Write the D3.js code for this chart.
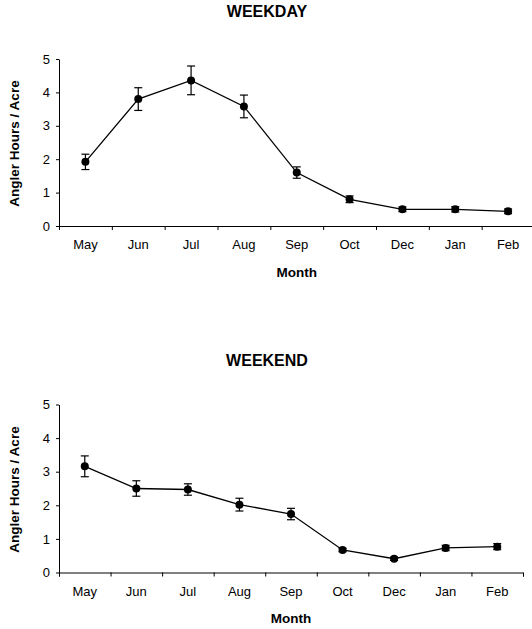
<!DOCTYPE html>
<html>
<head>
<meta charset="utf-8">
<script src="https://cdn.jsdelivr.net/npm/d3@7"></script>
<style>
  body { margin: 0; background: #fff; }
  svg { display: block; font-family: "Liberation Sans", Arial, sans-serif; }
  .axis path, .axis line { stroke: #000; }
  .axis text { font-size: 13px; fill: #000; }
</style>
</head>
<body>
<div id="chart"></div>
<script>
// data
const months = ['May', 'Jun', 'Jul', 'Aug', 'Sep', 'Oct', 'Dec', 'Jan', 'Feb'];
const weekdayMean = [1.92, 3.80, 4.36, 3.58, 1.60, 0.80, 0.50, 0.50, 0.44];
const weekdayErr  = [0.23, 0.34, 0.43, 0.34, 0.17, 0.10, 0.07, 0.08, 0.07];
const weekendMean = [3.16, 2.50, 2.47, 2.02, 1.74, 0.67, 0.41, 0.73, 0.77];
const weekendErr  = [0.31, 0.23, 0.17, 0.19, 0.17, 0.05, 0.05, 0.08, 0.09];
const yTicks = [0, 1, 2, 3, 4, 5];

const svg = d3.select('#chart')
  .append('svg')
  .attr('width', 532)
  .attr('height', 629);

function drawPanel(cfg) {
  const { title, mean, err, left, right, top, bottom, titleY, monthY } = cfg;

  const x = d3.scaleBand().domain(months).range([left, right]);
  const xTicks = d3.scaleLinear().domain([0, months.length]).range([left, right]);
  const y = d3.scaleLinear().domain([0, 5]).range([bottom, top]);

  const g = svg.append('g');

  // title
  g.append('text')
    .attr('x', 267)
    .attr('y', titleY)
    .attr('text-anchor', 'middle')
    .style('font-size', '16px')
    .style('font-weight', 'bold')
    .text(title);

  // x axis: tick marks at band edges, labels at centres
  g.append('g')
    .attr('class', 'axis')
    .attr('transform', 'translate(0,' + bottom + ')')
    .call(d3.axisBottom(xTicks).tickValues(d3.range(months.length + 1)).tickFormat('').tickSizeOuter(0).tickSize(4));

  g.append('g')
    .attr('class', 'axis')
    .attr('transform', 'translate(0,' + bottom + ')')
    .call(d3.axisBottom(x).tickSize(0).tickPadding(14))
    .call(a => a.select('.domain').remove());

  // y axis
  g.append('g')
    .attr('class', 'axis')
    .attr('transform', 'translate(' + left + ',0)')
    .call(d3.axisLeft(y).tickValues(yTicks).tickFormat(d3.format('d')).tickSize(3).tickSizeOuter(0).tickPadding(6));

  // axis titles
  g.append('text')
    .attr('transform', 'translate(19,' + ((top + bottom) / 2 + 1) + ') rotate(-90)')
    .attr('text-anchor', 'middle')
    .style('font-size', '13.5px')
    .style('font-weight', 'bold')
    .text('Angler Hours / Acre');

  g.append('text')
    .attr('x', x('Sep') + x.bandwidth() / 2)
    .attr('y', monthY)
    .attr('text-anchor', 'middle')
    .style('font-size', '13.5px')
    .style('font-weight', 'bold')
    .text('Month');

  const pts = months.map((m, i) => ({ m, v: mean[i], e: err[i] }));
  const cx = d => x(d.m) + x.bandwidth() / 2;

  // connecting line
  g.append('path')
    .datum(pts)
    .attr('fill', 'none')
    .attr('stroke', '#000')
    .attr('stroke-width', 1.3)
    .attr('d', d3.line().x(cx).y(d => y(d.v)));

  // error bars
  const eb = g.selectAll('.eb').data(pts).enter().append('g').attr('class', 'eb')
    .attr('stroke', '#000').attr('stroke-width', 1.2);
  eb.append('line')
    .attr('x1', cx).attr('x2', cx)
    .attr('y1', d => y(d.v + d.e)).attr('y2', d => y(d.v - d.e));
  eb.append('line')
    .attr('x1', d => cx(d) - 4).attr('x2', d => cx(d) + 4)
    .attr('y1', d => y(d.v + d.e)).attr('y2', d => y(d.v + d.e));
  eb.append('line')
    .attr('x1', d => cx(d) - 4).attr('x2', d => cx(d) + 4)
    .attr('y1', d => y(d.v - d.e)).attr('y2', d => y(d.v - d.e));

  // markers
  g.selectAll('.dot').data(pts).enter().append('circle')
    .attr('class', 'dot')
    .attr('cx', cx)
    .attr('cy', d => y(d.v))
    .attr('r', 4)
    .attr('fill', '#000');
}

drawPanel({
  title: 'WEEKDAY', mean: weekdayMean, err: weekdayErr,
  left: 59, right: 534.5, top: 59, bottom: 226, titleY: 17, monthY: 277
});

drawPanel({
  title: 'WEEKEND', mean: weekendMean, err: weekendErr,
  left: 59, right: 523, top: 404.5, bottom: 572.5, titleY: 366, monthY: 623
});
</script>
</body>
</html>
